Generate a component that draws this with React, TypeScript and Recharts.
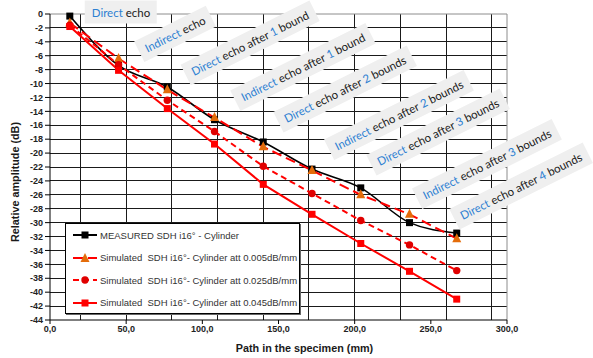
import React from 'react';
import { LineChart, Line, XAxis, YAxis, CartesianGrid, ReferenceLine } from 'recharts';

// path in the specimen (mm) for each echo
const pathMm = [13, 45, 77, 108, 140, 172, 204, 236, 267];

// relative amplitude (dB)
const measured = [-0.3, -7.4, -10.5, -15.2, -18.4, -22.3, -25.0, -30.0, -31.5];
const att005 = [-1.3, -6.4, -10.9, -14.9, -19.1, -22.5, -26.0, -28.8, -32.3];
const att025 = [-1.6, -7.3, -12.4, -16.9, -21.9, -25.8, -29.7, -33.2, -36.9];
const att045 = [-1.8, -8.1, -13.6, -18.7, -24.5, -28.8, -33.0, -37.0, -41.0];

const seriesNames = [
  'MEASURED SDH i16° - Cylinder',
  'Simulated  SDH i16°- Cylinder att 0.005dB/mm',
  'Simulated  SDH i16°- Cylinder att 0.025dB/mm',
  'Simulated  SDH i16°- Cylinder att 0.045dB/mm',
];

const xTicks = [0, 50, 100, 150, 200, 250, 300];
const xGrid = [10, 20, 30, 40, 50, 60, 70, 80, 90, 100, 110, 120, 130, 140, 150, 160, 170, 180, 190, 200, 210, 220, 230, 240, 250, 260, 270, 280, 290];
const yTicks = [0, -2, -4, -6, -8, -10, -12, -14, -16, -18, -20, -22, -24, -26, -28, -30, -32, -34, -36, -38, -40, -42, -44];
const yGrid = [-2, -4, -6, -8, -10, -12, -14, -16, -18, -20, -22, -24, -26, -28, -30, -32, -34, -36, -38, -40, -42];

// echo callouts
const echoKinds = ['Direct', 'Indirect', 'Direct', 'Indirect', 'Direct', 'Indirect', 'Direct', 'Indirect', 'Direct'];
const echoBounds = [0, 0, 1, 1, 2, 2, 3, 3, 4];
const calloutPos = [[121, 12], [175, 34], [250, 43], [303, 67], [345, 89], [399, 115], [438, 132], [487, 164], [521, 186]];

const rows = pathMm.map((p, i) => ({
  path: p,
  measured: measured[i],
  att005: att005[i],
  att025: att025[i],
  att045: att045[i],
}));

const BLUE = '#2d80d2';
const RED = '#ff0000';
const ORANGE = '#e46c0a';

const square = (fill: string, size: number) => (p: any) => {
  if (p.cx == null || p.cy == null) return <g key={`s${p.index}`} />;
  return <rect key={`s${p.index}`} x={p.cx - size / 2} y={p.cy - size / 2} width={size} height={size} fill={fill} />;
};
const triangle = (fill: string) => (p: any) => {
  if (p.cx == null || p.cy == null) return <g key={`t${p.index}`} />;
  const { cx, cy } = p;
  return <polygon key={`t${p.index}`} points={`${cx},${cy - 5.5} ${cx + 4.5},${cy + 3.5} ${cx - 4.5},${cy + 3.5}`} fill={fill} />;
};
const circle = (fill: string) => (p: any) => {
  if (p.cx == null || p.cy == null) return <g key={`c${p.index}`} />;
  return <circle key={`c${p.index}`} cx={p.cx} cy={p.cy} r={3.7} fill={fill} />;
};

const FONT = '"Liberation Sans", Arial, sans-serif';
const tickStyle = { fontFamily: FONT, fontSize: 9, fontWeight: 700, fill: '#222' };
const titleStyle = { fontFamily: FONT, fontSize: 10.8, fontWeight: 700, fill: '#1a1a1a' };

const Callout = ({ kind, bounds, x, y, angle }: { kind: string; bounds: number; x: number; y: number; angle: number }) => (
  <div
    style={{
      position: 'absolute',
      left: x,
      top: y,
      transform: `translate(-50%, -50%) rotate(${angle}deg)`,
      background: '#efefef',
      padding: '4px 7px',
      whiteSpace: 'nowrap',
      fontFamily: 'Lato, "Open Sans", sans-serif',
      fontSize: 11.5,
      lineHeight: '15px',
      color: '#1a1a1a',
    }}
  >
    <span style={{ color: BLUE }}>{kind}</span> echo
    {bounds > 0 && (
      <>
        {' '}after <span style={{ color: BLUE }}>{bounds}</span> {bounds > 1 ? 'bounds' : 'bound'}
      </>
    )}
  </div>
);

const LegendSwatch = ({ i }: { i: number }) => {
  if (i === 0)
    return (
      <svg width={26} height={12}>
        <line x1={1} y1={6} x2={25} y2={6} stroke="#000" strokeWidth={2} />
        <rect x={9.5} y={2.5} width={7} height={7} fill="#000" />
      </svg>
    );
  if (i === 1)
    return (
      <svg width={26} height={12}>
        <line x1={1} y1={6} x2={25} y2={6} stroke={RED} strokeWidth={2} strokeDasharray="10 5" />
        <polygon points="13,1 17.5,10 8.5,10" fill={ORANGE} />
      </svg>
    );
  if (i === 2)
    return (
      <svg width={26} height={12}>
        <line x1={1} y1={6} x2={25} y2={6} stroke={RED} strokeWidth={2} strokeDasharray="6 4" />
        <circle cx={13} cy={6} r={3.7} fill="#e00000" />
      </svg>
    );
  return (
    <svg width={26} height={12}>
      <line x1={1} y1={6} x2={25} y2={6} stroke={RED} strokeWidth={2} />
      <rect x={9.5} y={2.5} width={7} height={7} fill={RED} />
    </svg>
  );
};

export default function App() {
  return (
    <div style={{ position: 'absolute', left: 0, top: 0, width: 593, height: 358, background: '#fff', overflow: 'hidden' }}>
      <style>{'.recharts-cartesian-grid line { shape-rendering: crispEdges; }'}</style>
      <LineChart width={593} height={358} data={rows} margin={{ top: 14, right: 86, bottom: 0, left: 0 }}>
        <CartesianGrid horizontalValues={yGrid} verticalValues={xGrid} stroke="#1a1a1a" />
        <XAxis
          type="number"
          dataKey="path"
          domain={[0, 300]}
          ticks={xTicks}
          height={38}
          tick={tickStyle}
          tickSize={4}
          tickMargin={2}
          stroke="#000"
          tickFormatter={(v: number) => v.toFixed(1).replace('.', ',')}
          label={{
            content: (props: any) => {
              const vb = props.viewBox;
              return (
                <text x={vb.x + vb.width / 2 + 26} y={vb.y + 28} textAnchor="middle" dominantBaseline="central" style={titleStyle}>
                  Path in the specimen (mm)
                </text>
              );
            },
          }}
        />
        <YAxis
          type="number"
          domain={[-44, 0]}
          ticks={yTicks}
          width={50}
          tick={tickStyle}
          tickSize={5}
          tickMargin={2}
          stroke="#000"
          interval={0}
          label={{
            content: (props: any) => {
              const vb = props.viewBox;
              const cy = vb.y + vb.height / 2 + 15;
              return (
                <text
                  x={15}
                  y={cy}
                  textAnchor="middle"
                  dominantBaseline="central"
                  transform={`rotate(-90, 15, ${cy})`}
                  style={titleStyle}
                >
                  Relative amplitude (dB)
                </text>
              );
            },
          }}
        />
        <ReferenceLine y={0} stroke="#8c8c8c" />
        <ReferenceLine x={300} stroke="#8c8c8c" />
        <Line dataKey="measured" name={seriesNames[0]} type="monotone" stroke="#000" strokeWidth={1.6} dot={square('#000', 7)} activeDot={false} isAnimationActive={false} />
        <Line dataKey="att005" name={seriesNames[1]} type="linear" stroke={RED} strokeWidth={2} strokeDasharray="10 5" dot={triangle(ORANGE)} activeDot={false} isAnimationActive={false} />
        <Line dataKey="att025" name={seriesNames[2]} type="linear" stroke={RED} strokeWidth={2} strokeDasharray="6 4" dot={circle('#e00000')} activeDot={false} isAnimationActive={false} />
        <Line dataKey="att045" name={seriesNames[3]} type="linear" stroke={RED} strokeWidth={2} dot={square(RED, 7)} activeDot={false} isAnimationActive={false} />
      </LineChart>

      <div
        style={{
          position: 'absolute',
          left: 65,
          top: 223,
          width: 235,
          height: 91,
          border: '1px solid #000',
          boxShadow: '1px 1px 0 #666',
          background: '#fff',
          boxSizing: 'border-box',
          fontFamily: FONT,
          fontSize: 9.5,
          color: '#333',
        }}
      >
        {seriesNames.map((name, i) => (
          <div key={name} style={{ position: 'absolute', left: 6, top: 4 + i * 22.6, height: 14, display: 'flex', alignItems: 'center' }}>
            <LegendSwatch i={i} />
            <span style={{ whiteSpace: 'pre', marginLeft: 2 }}>{name}</span>
          </div>
        ))}
      </div>

      {echoKinds.map((kind, i) => (
        <Callout key={i} kind={kind} bounds={echoBounds[i]} x={calloutPos[i][0]} y={calloutPos[i][1]} angle={i === 0 ? 0 : -26.5} />
      ))}
    </div>
  );
}
